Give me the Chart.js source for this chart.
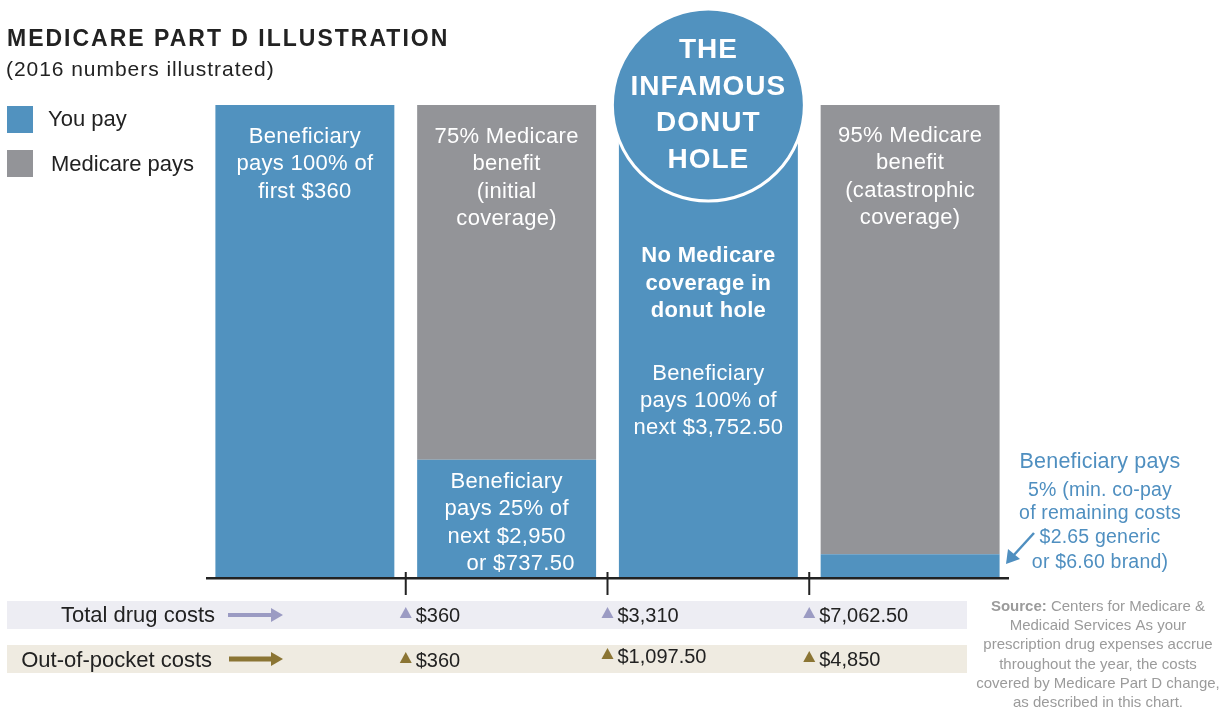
<!DOCTYPE html>
<html>
<head>
<meta charset="utf-8">
<script src="https://cdn.jsdelivr.net/npm/chart.js@4.4.0/dist/chart.umd.min.js"></script>
<style>
  html, body { margin: 0; padding: 0; background: #fff; }
  #wrap { width: 1230px; height: 709px; position: relative; }
</style>
</head>
<body>
<div id="wrap"><canvas id="grafico" width="1230" height="709"></canvas></div>
<script>
// stages of Part D coverage (share of each dollar, %)
var stages = ["Deductible", "Initial coverage", "Donut hole", "Catastrophic"];
var youPay = [100, 25, 100, 5];
var medicarePays = [0, 75, 0, 95];

// running totals at the end of each stage
var totalDrugCosts = [360, 3310, 7062.50];
var outOfPocket = [360, 1097.50, 4850];

var BLUE = '#5192bf';
var GRAY = '#939498';
var FONT = '"Liberation Sans", Arial, sans-serif';

function money(v) {
  var s = v.toLocaleString('en-US', { minimumFractionDigits: v % 1 ? 2 : 0, maximumFractionDigits: 2 });
  return '$' + s;
}

function txt(ctx, s, x, y, size, color, opts) {
  opts = opts || {};
  ctx.save();
  ctx.font = (opts.bold ? 'bold ' : '') + size + 'px ' + FONT;
  ctx.fillStyle = color;
  ctx.textAlign = opts.align || 'center';
  ctx.textBaseline = 'middle';
  if (opts.spacing) ctx.letterSpacing = opts.spacing + 'px';
  ctx.fillText(s, x, y);
  ctx.restore();
}

function tri(ctx, x, y, color) {
  ctx.fillStyle = color;
  ctx.beginPath();
  ctx.moveTo(x - 6, y + 5);
  ctx.lineTo(x + 6, y + 5);
  ctx.lineTo(x, y - 6);
  ctx.closePath();
  ctx.fill();
}

function arrow(ctx, x1, x2, y, color, w) {
  ctx.fillStyle = color;
  ctx.fillRect(x1, y - w / 2, x2 - x1 - 10, w);
  ctx.beginPath();
  ctx.moveTo(x2 - 12, y - 7);
  ctx.lineTo(x2, y);
  ctx.lineTo(x2 - 12, y + 7);
  ctx.closePath();
  ctx.fill();
}

var decor = {
  id: 'decor',
  beforeDraw: function (chart) {
    var ctx = chart.ctx;
    ctx.save();
    ctx.fillStyle = '#fff';
    ctx.fillRect(0, 0, chart.width, chart.height);
    // title
    txt(ctx, 'MEDICARE PART D ILLUSTRATION', 7, 40, 23, '#222', { bold: true, align: 'left', spacing: 2 });
    txt(ctx, '(2016 numbers illustrated)', 6, 70, 21, '#222', { align: 'left', spacing: 0.95 });
    // legend
    ctx.fillStyle = BLUE; ctx.fillRect(7, 106, 26, 27);
    ctx.fillStyle = GRAY; ctx.fillRect(7, 150, 26, 27);
    txt(ctx, 'You pay', 48, 120, 22, '#222', { align: 'left' });
    txt(ctx, 'Medicare pays', 51, 165, 22, '#222', { align: 'left' });
    // bottom bands
    ctx.fillStyle = '#ededf3'; ctx.fillRect(7, 601, 960, 28);
    ctx.fillStyle = '#efebe1'; ctx.fillRect(7, 645, 960, 28);
    ctx.restore();
  },
  afterDatasetsDraw: function (chart) {
    var ctx = chart.ctx;
    var xs = chart.scales.x;
    var area = chart.chartArea;
    var cx = stages.map(function (s, i) { return xs.getPixelForValue(i); });
    var bounds = [];
    for (var i = 0; i < cx.length - 1; i++) bounds.push((cx[i] + cx[i + 1]) / 2);
    ctx.save();

    // axis line + ticks
    ctx.fillStyle = '#222';
    ctx.fillRect(area.left + 2, area.bottom - 1, area.right - area.left - 4, 2.5);
    bounds.forEach(function (b) { ctx.fillRect(b - 1, 572, 2, 23); });

    var W = '#fff';
    var S = 22, o = { spacing: 0.3 };
    // bar 1
    txt(ctx, 'Beneficiary', cx[0], 137, S, W, o);
    txt(ctx, 'pays 100% of', cx[0], 164, S, W, o);
    txt(ctx, 'first $360', cx[0], 192, S, W, o);
    // bar 2
    txt(ctx, '75% Medicare', cx[1], 137, S, W, o);
    txt(ctx, 'benefit', cx[1], 164, S, W, o);
    txt(ctx, '(initial', cx[1], 192, S, W, o);
    txt(ctx, 'coverage)', cx[1], 219, S, W, o);
    txt(ctx, 'Beneficiary', cx[1], 482, S, W, o);
    txt(ctx, 'pays 25% of', cx[1], 509, S, W, o);
    txt(ctx, 'next $2,950', cx[1], 537, S, W, o);
    txt(ctx, 'or $737.50', cx[1] + 14, 564, S, W, o);
    // bar 3
    var b = { bold: true, spacing: 0.3 };
    txt(ctx, 'No Medicare', cx[2], 256, S, W, b);
    txt(ctx, 'coverage in', cx[2], 284, S, W, b);
    txt(ctx, 'donut hole', cx[2], 311, S, W, b);
    txt(ctx, 'Beneficiary', cx[2], 374, S, W, o);
    txt(ctx, 'pays 100% of', cx[2], 401, S, W, o);
    txt(ctx, 'next $3,752.50', cx[2], 428, S, W, o);
    // bar 4
    txt(ctx, '95% Medicare', cx[3], 136, S, W, o);
    txt(ctx, 'benefit', cx[3], 163, S, W, o);
    txt(ctx, '(catastrophic', cx[3], 191, S, W, o);
    txt(ctx, 'coverage)', cx[3], 218, S, W, o);

    // donut hole badge
    ctx.beginPath();
    ctx.arc(cx[2], 105, 96, 0, Math.PI * 2);
    ctx.fillStyle = BLUE;
    ctx.fill();
    ctx.lineWidth = 3;
    ctx.strokeStyle = '#fff';
    ctx.stroke();
    txt(ctx, 'THE', cx[2], 50, 28, W, { bold: true, spacing: 1 });
    txt(ctx, 'INFAMOUS', cx[2], 87, 28, W, { bold: true, spacing: 1 });
    txt(ctx, 'DONUT', cx[2], 123, 28, W, { bold: true, spacing: 1 });
    txt(ctx, 'HOLE', cx[2], 160, 28, W, { bold: true, spacing: 1 });

    // catastrophic note
    var NB = '#4f8fc0';
    txt(ctx, 'Beneficiary pays', 1100, 462, 21.5, NB, { spacing: 0.2 });
    txt(ctx, '5% (min. co-pay', 1100, 491, 19.5, NB, { spacing: 0.2 });
    txt(ctx, 'of remaining costs', 1100, 514, 19.5, NB, { spacing: 0.2 });
    txt(ctx, '$2.65 generic', 1100, 538, 19.5, NB, { spacing: 0.2 });
    txt(ctx, 'or $6.60 brand)', 1100, 563, 19.5, NB, { spacing: 0.2 });
    ctx.strokeStyle = NB;
    ctx.lineWidth = 2.5;
    ctx.beginPath();
    ctx.moveTo(1034, 533);
    ctx.lineTo(1013, 556);
    ctx.stroke();
    ctx.fillStyle = NB;
    ctx.beginPath();
    ctx.moveTo(1006, 564);
    ctx.lineTo(1008, 549);
    ctx.lineTo(1020, 559);
    ctx.closePath();
    ctx.fill();

    // bottom rows
    txt(ctx, 'Total drug costs', 215, 616, 22, '#222', { align: 'right' });
    arrow(ctx, 228, 283, 615, '#9b9bc3', 4);
    txt(ctx, 'Out-of-pocket costs', 212, 661, 22, '#222', { align: 'right' });
    arrow(ctx, 229, 283, 659, '#8b7534', 5);
    var oopY = [661, 657, 660];
    bounds.forEach(function (bx, i) {
      tri(ctx, bx, 613, '#9b9bc3');
      txt(ctx, money(totalDrugCosts[i]), bx + 10, 616, 20, '#222', { align: 'left' });
      tri(ctx, bx, oopY[i] - 3, '#8b7534');
      txt(ctx, money(outOfPocket[i]), bx + 10, oopY[i], 20, '#222', { align: 'left' });
    });

    // source
    var SG = '#9b9b9b';
    ctx.font = 'bold 15px ' + FONT;
    var w1 = ctx.measureText('Source: ').width;
    ctx.font = '15px ' + FONT;
    var w2 = ctx.measureText('Centers for Medicare &').width;
    var sx = 1098 - (w1 + w2) / 2;
    txt(ctx, 'Source:', sx, 607, 15, SG, { bold: true, align: 'left' });
    txt(ctx, 'Centers for Medicare &', sx + w1, 607, 15, SG, { align: 'left' });
    txt(ctx, 'Medicaid Services As your', 1098, 626, 15, SG);
    txt(ctx, 'prescription drug expenses accrue', 1098, 645, 15, SG);
    txt(ctx, 'throughout the year, the costs', 1098, 665, 15, SG);
    txt(ctx, 'covered by Medicare Part D change,', 1098, 684, 15, SG);
    txt(ctx, 'as described in this chart.', 1098, 703, 15, SG);
    ctx.restore();
  }
};

new Chart(document.getElementById('grafico'), {
  type: 'bar',
  data: {
    labels: stages,
    datasets: [
      {
        label: 'You pay',
        backgroundColor: BLUE,
        data: youPay,
        barPercentage: 1,
        categoryPercentage: 0.887
      }, {
        label: 'Medicare pays',
        backgroundColor: GRAY,
        data: medicarePays,
        barPercentage: 1,
        categoryPercentage: 0.887
      }
    ]
  },
  options: {
    responsive: false,
    animation: false,
    events: [],
    layout: { padding: { left: 204, right: 219, top: 105, bottom: 131 } },
    plugins: {
      legend: { display: false },
      title: { display: false },
      tooltip: { enabled: false }
    },
    scales: {
      x: { stacked: true, display: false },
      y: { stacked: true, display: false, min: 0, max: 100 }
    }
  },
  plugins: [decor]
});
</script>
</body>
</html>
